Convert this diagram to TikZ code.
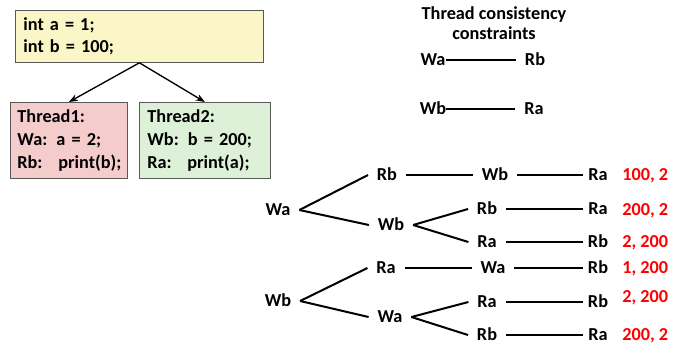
\documentclass[tikz,border=0pt]{standalone}
\usepackage{fontspec}
\setmainfont{Carlito}
\usetikzlibrary{arrows.meta, positioning}
\definecolor{initY}{RGB}{250,246,200}
\definecolor{thrR}{RGB}{244,204,204}
\definecolor{thrG}{RGB}{221,240,216}
\tikzset{
  op/.style   ={font=\fontsize{13.7}{16.5}\selectfont\bfseries, inner xsep=6.5pt,
                inner ysep=0pt, text height=8.7pt, text depth=0pt},
  leaf/.style ={op, inner xsep=3.7pt},
  res/.style  ={op, text=red, anchor=west, inner xsep=0pt},
  cons/.style ={op, inner xsep=0pt},
  hdr/.style  ={font=\fontsize{13.7}{15}\selectfont\bfseries, align=center},
  codebox/.style={draw=black!65, line width=0.6pt, anchor=north west, align=left,
                font=\fontsize{13.7}{17.5}\selectfont\bfseries, inner xsep=6pt},
  seq/.style  ={line width=1.5pt},
  fork/.style ={-{Stealth[length=2.4mm]}, line width=1pt},
}
\newcommand{\lbl}[2]{\makebox[#1][l]{#2}}
\begin{document}
\begin{tikzpicture}[x=0.75pt, y=-0.75pt]
  \useasboundingbox (0,0) rectangle (677,344);
  % program and threads
  \node[codebox, fill=initY, text width=174pt, minimum height=39pt,
        font=\fontsize{13.7}{16.5}\selectfont\bfseries] (init) at (15,10)
    {int a = 1;\\int b = 100;};
  \node[codebox, fill=thrR, inner xsep=5.25pt, text width=77.25pt, minimum height=57pt]
    (t1) at (10,102)
    {Thread1:\\Wa: a = 2;\\\lbl{30.75pt}{Rb:}print(b);};
  \node[codebox, fill=thrG, text width=86.25pt, minimum height=57pt] (t2) at (139,102)
    {Thread2:\\Wb: b = 200;\\\lbl{30pt}{Ra:}print(a);};
  \draw[fork] (init.south) -- (t1.north);
  \draw[fork] (init.south) -- (t2.north);
  % constraints
  \node[hdr] (title) at (494,23) {Thread consistency\\constraints};
  \node[cons] (cwa) at (433,60)  {Wa};
  \node[cons] (crb) at (535,60)  {Rb};
  \node[cons] (cwb) at (433,109) {Wb};
  \node[cons] (cra) at (534,109) {Ra};
  \draw[seq, shorten >=6.75pt] (cwa) -- (crb);
  \draw[seq, shorten >=6.75pt] (cwb) -- (cra);
  % orderings starting with Wa
  \node[op]   (wa1) at (278,210) {Wa};
  \node[op]   (rb1) at (387,175) {Rb};
  \node[op]   (wb1) at (495,175) {Wb};
  \node[leaf] (ra1) at (598,175) {Ra};
  \node[op]   (wb2) at (391,225) {Wb};
  \node[op]   (rb2) at (487,209) {Rb};
  \node[leaf] (ra2) at (598,209) {Ra};
  \node[op]   (ra3) at (487,242) {Ra};
  \node[leaf] (rb3) at (598,242) {Rb};
  \draw[seq] (wa1.east) -- (rb1.west);
  \draw[seq] (wa1.east) -- (wb2.west);
  \draw[seq] (rb1) -- (wb1);
  \draw[seq] (wb1) -- (ra1);
  \draw[seq] (wb2.east) -- (rb2.west);
  \draw[seq] (wb2.east) -- (ra3.west);
  \draw[seq] (rb2) -- (ra2);
  \draw[seq] (ra3) -- (rb3);
  \node[res] (p1) at (622,175) {100, 2};
  \node[res] (p2) at (622,210) {200, 2};
  \node[res] (p3) at (622,242) {2, 200};
  % orderings starting with Wb
  \node[op]   (wb3) at (278,301) {Wb};
  \node[op]   (ra4) at (386,268) {Ra};
  \node[op]   (wa2) at (493,268) {Wa};
  \node[leaf] (rb4) at (598,268) {Rb};
  \node[op]   (wa3) at (390,317) {Wa};
  \node[op]   (ra5) at (487,302) {Ra};
  \node[leaf] (rb5) at (598,302) {Rb};
  \node[op]   (rb6) at (487,335) {Rb};
  \node[leaf] (ra6) at (598,335) {Ra};
  \draw[seq] (wb3.east) -- (ra4.west);
  \draw[seq] (wb3.east) -- (wa3.west);
  \draw[seq] (ra4) -- (wa2);
  \draw[seq] (wa2) -- (rb4);
  \draw[seq] (wa3.east) -- (ra5.west);
  \draw[seq] (wa3.east) -- (rb6.west);
  \draw[seq] (ra5) -- (rb5);
  \draw[seq] (rb6) -- (ra6);
  \node[res] (p4) at (622,268) {1, 200};
  \node[res] (p5) at (622,297) {2, 200};
  \node[res] (p6) at (622,335) {200, 2};
\end{tikzpicture}
\end{document}
